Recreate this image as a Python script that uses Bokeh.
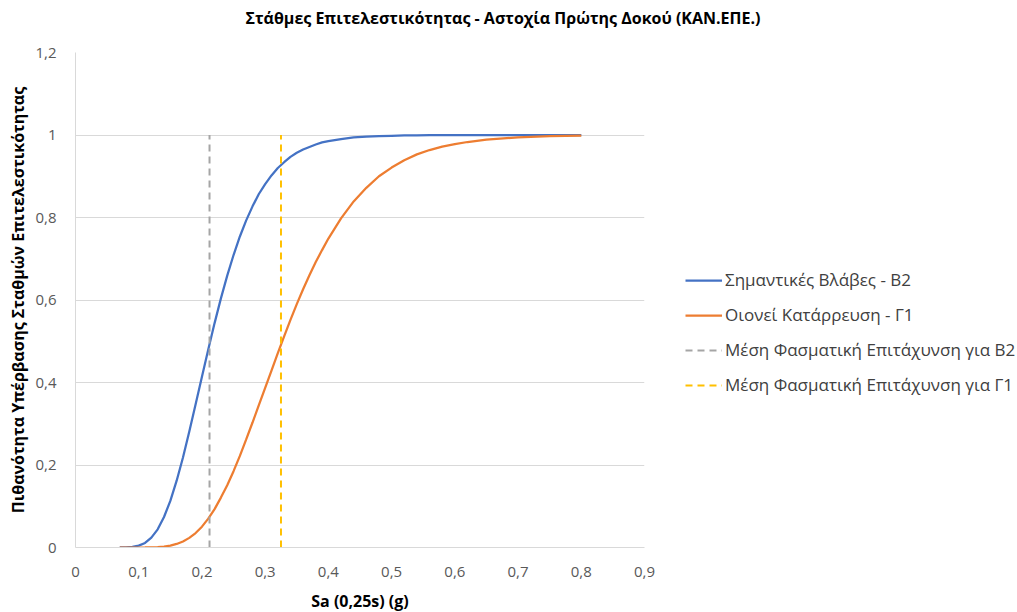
from bokeh.plotting import figure
from bokeh.models import Legend, LegendItem, CustomJSTickFormatter, Range1d, FixedTicker, Title
from bokeh.embed import file_html
from bokeh.resources import INLINE

# ---- data ----
sa = [0.07, 0.08, 0.09, 0.10, 0.11, 0.12, 0.13, 0.14, 0.15, 0.16, 0.17, 0.18, 0.19,
      0.20, 0.21, 0.22, 0.23, 0.24, 0.25, 0.26, 0.27, 0.28, 0.29, 0.30, 0.31, 0.32,
      0.33, 0.34, 0.35, 0.36, 0.37, 0.38, 0.39, 0.40, 0.42, 0.44, 0.46, 0.48, 0.50,
      0.52, 0.54, 0.56, 0.58, 0.60, 0.62, 0.65, 0.70, 0.75, 0.80]
p_b2 = [0.0001, 0.0004, 0.0015, 0.0045, 0.011, 0.024, 0.044, 0.074, 0.113, 0.162,
        0.218, 0.281, 0.347, 0.414, 0.480, 0.544, 0.604, 0.659, 0.709, 0.754, 0.793,
        0.827, 0.857, 0.881, 0.902, 0.920, 0.934, 0.947, 0.957, 0.965, 0.971, 0.977,
        0.982, 0.985, 0.990, 0.994, 0.996, 0.997, 0.998, 0.9988, 0.9993, 0.9995,
        0.9997, 0.9998, 0.9999, 0.9999, 1.0, 1.0, 1.0]
p_g1 = [0.0, 0.0, 0.0, 0.0, 0.0001, 0.0004, 0.001, 0.0023, 0.0047, 0.0086, 0.0146,
        0.0233, 0.035, 0.0505, 0.070, 0.093, 0.121, 0.151, 0.185, 0.222, 0.262, 0.303,
        0.345, 0.387, 0.429, 0.471, 0.512, 0.552, 0.590, 0.626, 0.660, 0.692, 0.721,
        0.749, 0.798, 0.839, 0.872, 0.900, 0.921, 0.939, 0.953, 0.9635, 0.972, 0.978,
        0.983, 0.989, 0.9944, 0.9972, 0.9986]
median_b2 = [0.212, 0.212]
median_g1 = [0.325, 0.325]
median_span = [0.0, 1.0]

x_ticks = [0, 0.1, 0.2, 0.3, 0.4, 0.5, 0.6, 0.7, 0.8, 0.9]
y_ticks = [0, 0.2, 0.4, 0.6, 0.8, 1.0, 1.2]

labels = ["Σημαντικές Βλάβες - Β2", "Οιονεί Κατάρρευση - Γ1",
          "Μέση Φασματική Επιτάχυνση για Β2", "Μέση Φασματική Επιτάχυνση για Γ1"]
title_text = "Στάθμες Επιτελεστικότητας - Αστοχία Πρώτης Δοκού (ΚΑΝ.ΕΠΕ.)"
x_title = "Sa (0,25s) (g)"
y_title = "Πιθανότητα Υπέρβασης Σταθμών Επιτελεστικότητας"

FONT = "Open Sans"

p = figure(frame_width=569, frame_height=495, output_backend="svg", toolbar_location=None,
           x_range=Range1d(0, 0.9), y_range=Range1d(0, 1.2),
           min_border_left=75, min_border_right=0, min_border_top=52,
           min_border_bottom=65)
p.outline_line_color = None
p.background_fill_color = "white"
p.border_fill_color = "white"

# main title (outermost panel)
p.title.text = title_text
p.title.align = "left"
p.title.offset = 170
p.title.standoff = 0
p.title.text_font = FONT
p.title.text_font_size = "16px"
p.title.text_font_style = "bold"
p.title.text_color = "#000000"

# blank spacer between the title and the plot frame
spacer = Title(text=" ", text_font=FONT, text_font_size="16px", standoff=0)
p.add_layout(spacer, "above")

fmt = CustomJSTickFormatter(code="return (Math.round(tick*10)/10).toString().replace('.', ',');")
for ax, ticks in ((p.xaxis, x_ticks), (p.yaxis, y_ticks)):
    ax.ticker = FixedTicker(ticks=ticks)
    ax.formatter = fmt
    ax.major_tick_line_color = None
    ax.minor_tick_line_color = None
    ax.major_label_text_font = FONT
    ax.major_label_text_font_size = "15px"
    ax.major_label_text_color = "#595959"
    ax.axis_label_text_font = FONT
    ax.axis_label_text_font_size = "16px"
    ax.axis_label_text_font_style = "bold"
    ax.axis_label_text_color = "#000000"
    ax.axis_line_color = "#d9d9d9"
    ax.major_label_standoff = 13

p.xaxis.axis_label = x_title
p.yaxis.axis_label = y_title
p.xaxis.axis_label_standoff = 10
p.yaxis.axis_label_standoff = 3

p.xgrid.grid_line_color = None
p.ygrid.grid_line_color = "#d9d9d9"

r1 = p.line(sa, p_b2, line_color="#4472c4", line_width=2.25)
r2 = p.line(sa, p_g1, line_color="#ed7d31", line_width=2.25)
r3 = p.line(median_b2, median_span, line_color="#a5a5a5", line_width=2, line_dash="7 5")
r4 = p.line(median_g1, median_span, line_color="#ffc000", line_width=2, line_dash="7 5")

legend = Legend(items=[LegendItem(label=labels[0], renderers=[r1]),
                       LegendItem(label=labels[1], renderers=[r2]),
                       LegendItem(label=labels[2], renderers=[r3]),
                       LegendItem(label=labels[3], renderers=[r4])],
                location=(41, 151), padding=0, spacing=12, glyph_width=37,
                label_standoff=3, label_text_font=FONT, label_text_font_size="17px",
                label_text_color="#404040", border_line_color=None,
                background_fill_alpha=0, label_height=20, margin=0)
p.add_layout(legend, "right")

open("out.html", "w").write(file_html(p, INLINE))
